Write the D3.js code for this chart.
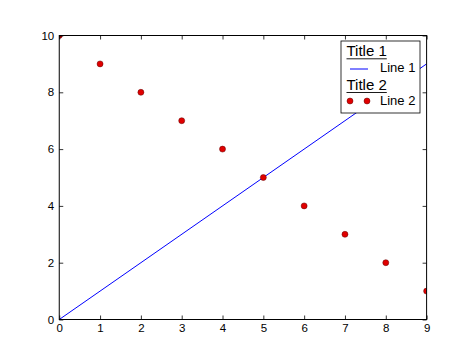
<!DOCTYPE html>
<html>
<head>
<meta charset="utf-8">
<script src="https://cdn.jsdelivr.net/npm/d3@7"></script>
<style>
body { margin: 0; background: #fff; }
text { font-family: "Liberation Sans", Arial, sans-serif; }
</style>
</head>
<body>
<script>
const WIDTH = 474;
const HEIGHT = 355;
const MARGIN = {left: 59.25, right: 47.4, top: 35.5, bottom: 35.5};
const FONT = '"Liberation Sans", Arial, sans-serif';

var line1X = [0, 9];
var line1Y = [0, 9];
var line2X = [0, 1, 2, 3, 4, 5, 6, 7, 8, 9];
var line2Y = [10, 9, 8, 7, 6, 5, 4, 3, 2, 1];
var xTicks = [0, 1, 2, 3, 4, 5, 6, 7, 8, 9];
var yTicks = [0, 2, 4, 6, 8, 10];

var svg = d3.select('body').append('svg')
    .attr('width', WIDTH)
    .attr('height', HEIGHT);

var x = d3.scaleLinear()
    .domain([0, 9])
    .range([MARGIN.left, WIDTH - MARGIN.right]);

var y = d3.scaleLinear()
    .domain([0, 10])
    .range([HEIGHT - MARGIN.bottom, MARGIN.top]);

svg.append('clipPath').attr('id', 'clip')
    .append('rect')
    .attr('x', x(0)).attr('y', y(10))
    .attr('width', x(9) - x(0)).attr('height', y(0) - y(10));

var plot = svg.append('g').attr('clip-path', 'url(#clip)');

plot.append('path')
    .datum(line1X.map(function(d, i) { return [d, line1Y[i]]; }))
    .attr('fill', 'none')
    .attr('stroke', '#0000ff')
    .attr('stroke-width', 1)
    .attr('d', d3.line().x(function(d) { return x(d[0]); }).y(function(d) { return y(d[1]); }));

plot.selectAll('circle')
    .data(line2X)
    .enter()
    .append('circle')
    .attr('cx', function(d) { return x(d); })
    .attr('cy', function(d, i) { return y(line2Y[i]); })
    .attr('r', 3)
    .attr('fill', '#e00000')
    .attr('stroke', '#600000')
    .attr('stroke-width', 0.5);

// axes with inward ticks on all four sides
var tick = 4;
var bottom = svg.append('g').attr('transform', 'translate(0,' + y(0) + ')')
    .call(d3.axisBottom(x).tickValues(xTicks).tickSizeInner(-tick).tickSizeOuter(0).tickPadding(4));
var top_ = svg.append('g').attr('transform', 'translate(0,' + y(10) + ')')
    .call(d3.axisTop(x).tickValues(xTicks).tickSizeInner(-tick).tickSizeOuter(0).tickFormat(''));
var left = svg.append('g').attr('transform', 'translate(' + x(0) + ',0)')
    .call(d3.axisLeft(y).tickValues(yTicks).tickSizeInner(-tick).tickSizeOuter(0).tickPadding(5));
var right = svg.append('g').attr('transform', 'translate(' + x(9) + ',0)')
    .call(d3.axisRight(y).tickValues(yTicks).tickSizeInner(-tick).tickSizeOuter(0).tickFormat(''));

[bottom, top_, left, right].forEach(function(a) {
    a.select('.domain').remove();
    a.selectAll('line').attr('stroke', '#000').attr('stroke-width', 0.8);
    a.selectAll('text').attr('font-size', 11.5).attr('fill', '#000')
        .attr('font-family', FONT);
});

svg.append('rect')
    .attr('x', x(0)).attr('y', y(10))
    .attr('width', x(9) - x(0)).attr('height', y(0) - y(10))
    .attr('fill', 'none').attr('stroke', '#000').attr('stroke-width', 1);

// legend
var lg = svg.append('g').attr('transform', 'translate(341,41)');
lg.append('rect').attr('width', 79).attr('height', 72)
    .attr('fill', '#fff').attr('stroke', '#000').attr('stroke-width', 0.8);

function title(txt, ty) {
    var t = lg.append('text').attr('x', 5.5).attr('y', ty)
        .attr('font-size', 15).attr('font-family', FONT).text(txt);
    var w = t.node().getComputedTextLength();
    lg.append('line').attr('x1', 5.5).attr('x2', 5.5 + w)
        .attr('y1', ty + 2.8).attr('y2', ty + 2.8)
        .attr('stroke', '#000').attr('stroke-width', 0.9);
}
title('Title 1', 15);
lg.append('line').attr('x1', 9).attr('x2', 27).attr('y1', 28).attr('y2', 28)
    .attr('stroke', '#0000ff').attr('stroke-width', 1);
lg.append('text').attr('x', 39).attr('y', 31.3).attr('font-size', 13)
    .attr('font-family', FONT).text('Line 1');
title('Title 2', 48.7);
lg.selectAll('.lm').data([9, 26]).enter().append('circle')
    .attr('cx', function(d) { return d; }).attr('cy', 60).attr('r', 3)
    .attr('fill', '#e00000').attr('stroke', '#600000').attr('stroke-width', 0.5);
lg.append('text').attr('x', 39).attr('y', 64).attr('font-size', 13)
    .attr('font-family', FONT).text('Line 2');
</script>
</body>
</html>
